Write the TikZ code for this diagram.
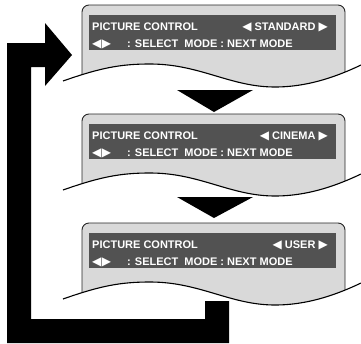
\documentclass[tikz,border=0pt]{standalone}
\usepackage{fontspec}
\setmainfont{Liberation Sans}
\newfontfamily\symfont{DejaVu Sans}
\definecolor{panelgray}{gray}{0.85}
\definecolor{labelgray}{gray}{0.32}
\tikzset{
  screen/.style={draw=black!85, fill=panelgray, line width=0.9pt, rounded corners=7pt},
  wave/.style={draw=black, line width=1.1pt},
  osdtext/.style={text=white, font=\bfseries\fontsize{11}{13}\selectfont, inner sep=0pt},
}
\newcommand{\wavepath}{(63,76) .. controls (100,63) and (120,59) .. (150,59) .. controls (200,59) and (230,82) .. (275,82) .. controls (310,82) and (340,70) .. (361,60)}
\newcommand{\tri}[1]{{\symfont\fontsize{12}{13}\selectfont #1}}
\begin{document}
\begin{tikzpicture}[x=1pt, y=-1pt]
    \useasboundingbox (0,0) rectangle (361,343);
    % return arrow
    \fill (229,301) -- (229,343) -- (7,343) -- (7,43) -- (45,43) -- (45,23) -- (72,55) -- (45,86) -- (45,67) -- (31,67) -- (31,319) -- (205,319) -- (205,301) -- cycle;
    % screens
    \foreach \t/\mode/\name in {5/STANDARD/std, 114/CINEMA/cin, 223/USER/usr} {
      \begin{scope}[shift={(0,\t)}]
        \begin{scope}
          \clip \wavepath -- (361,-5) -- (63,-5) -- cycle;
          \draw[screen] (82,110) rectangle (345,0);
        \end{scope}
        \draw[wave] \wavepath;
        \fill[labelgray] (89,10) rectangle (336,45);
        \node[osdtext, anchor=base west] (\name-title) at (92,25) {PICTURE CONTROL};
        \node[osdtext, anchor=base east] (\name-mode) at (328,25) {\tri{◀} \mode\ \tri{▶}};
        \node[osdtext, anchor=base west] (\name-keys) at (92,42.5) {\tri{◀\kern0.5pt▶}};
        \node[osdtext, anchor=base west] (\name-help) at (127,42) {: SELECT\ \ MODE : NEXT MODE};
      \end{scope}
    }
    % next mode
    \fill (177,90) -- (253,90) -- (214,112) -- cycle;
    \fill (177,197) -- (253,197) -- (214,218) -- cycle;
\end{tikzpicture}
\end{document}
